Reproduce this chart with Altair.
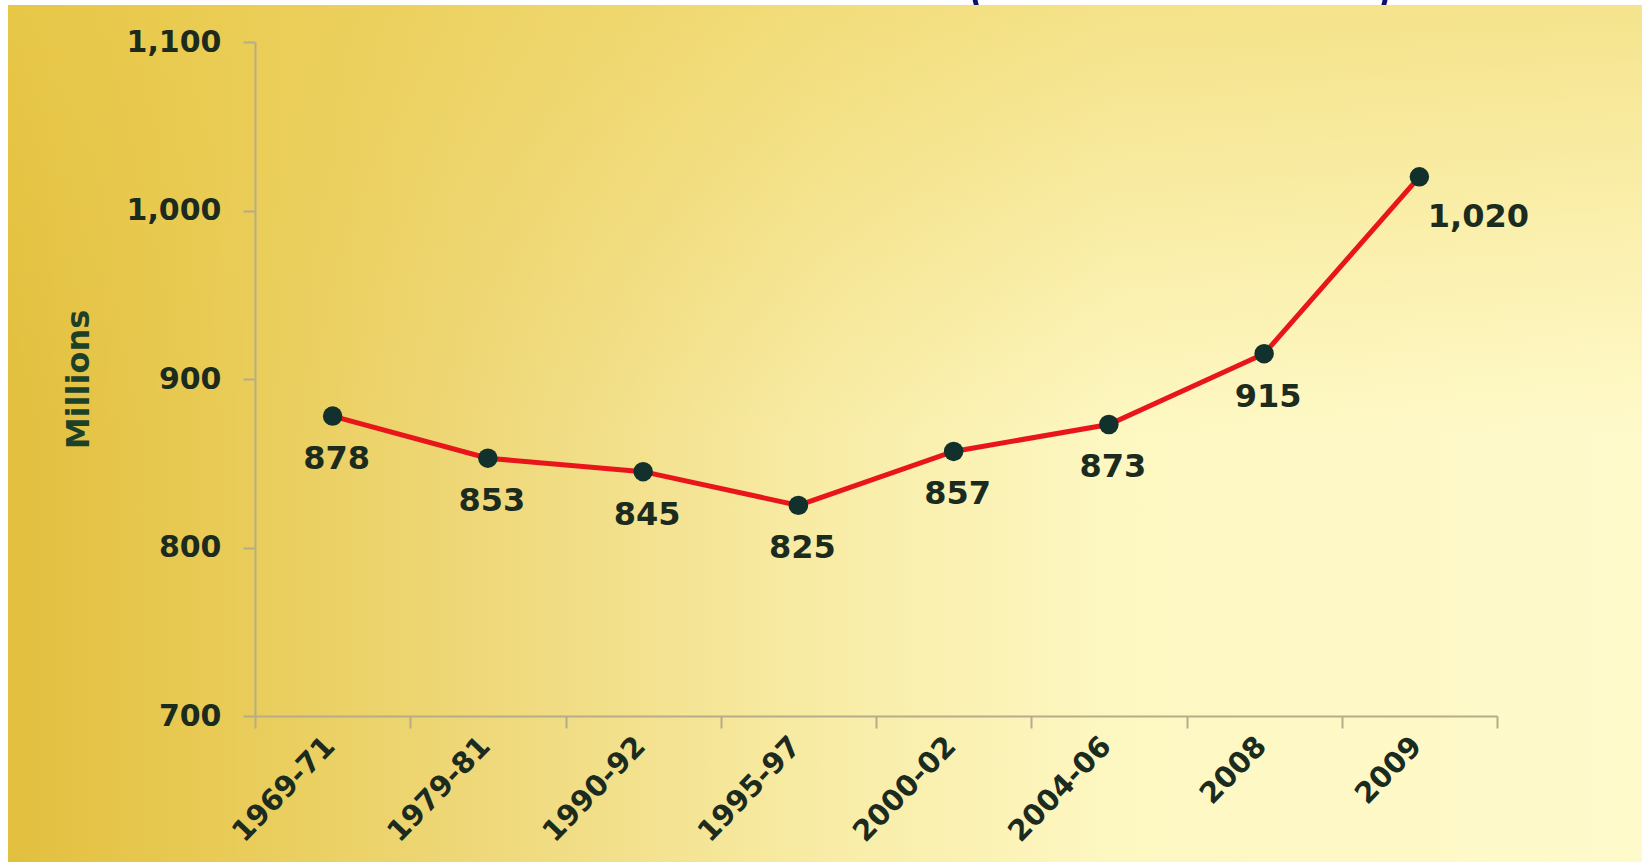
import altair as alt
import pandas as pd

# ---- data ----
periods = ["1969-71", "1979-81", "1990-92", "1995-97", "2000-02", "2004-06", "2008", "2009"]
hungry_millions = [878, 853, 845, 825, 857, 873, 915, 1020]
y_ticks = [700, 800, 900, 1000, 1100]
title_parens = ["(", ")"]

df = pd.DataFrame({"period": periods, "value": hungry_millions})
one = pd.DataFrame({"k": [0]})

W, H = 1242, 674
PL, PT, PR, PB = 255, 42, 145, 146

LABEL = "#1b2b1e"
FONT = "DejaVu Sans"

x_enc = alt.X(
    "period:N", sort=periods,
    scale=alt.Scale(type="band", paddingInner=0, paddingOuter=0),
    bandPosition=0.5,
    axis=alt.Axis(title=None, tickBand="extent", labelAngle=-46, zindex=2,
                  labelFont=FONT, labelFontWeight="bold", labelFontSize=29,
                  labelColor=LABEL, labelPadding=13, labelOffset=-3,
                  tickSize=12, tickWidth=2,
                  tickColor="#b5ad8a", domainColor="#b5ad8a", domainWidth=2),
)
y_enc = alt.Y(
    "value:Q",
    scale=alt.Scale(domain=[700, 1100], nice=False, zero=False),
    axis=alt.Axis(values=y_ticks, format=",d", title="Millions", grid=False, zindex=2,
                  labelFont=FONT, labelFontWeight="bold", labelFontSize=30,
                  labelColor=LABEL, labelPadding=22, tickSize=12, tickWidth=2,
                  tickColor="#b5ad8a", domainColor="#b5ad8a", domainWidth=2,
                  titleFont=FONT, titleFontWeight="bold", titleFontSize=32,
                  titleColor="#1d4028", titlePadding=31),
)

# cropped title parentheses peeking from above
paren_layers = [
    alt.Chart(one).mark_text(text=title_parens[0], font="Liberation Sans", fontSize=56,
                             color="#0b1270", align="center", baseline="alphabetic")
    .encode(x=alt.value(978 - PL), y=alt.value(8 - PT)),
    alt.Chart(one).mark_text(text=title_parens[1], font="Liberation Sans", fontSize=56,
                             color="#0b1270", align="center", baseline="alphabetic")
    .encode(x=alt.value(1382 - PL), y=alt.value(8 - PT)),
]

bg_h = alt.Chart(one).mark_rect(
    fill=alt.LinearGradient(
        gradient="linear", x1=0, y1=0, x2=1, y2=0,
        stops=[
            alt.GradientStop(offset=0, color="#e2bf3e"),
            alt.GradientStop(offset=0.12, color="#e8ca54"),
            alt.GradientStop(offset=0.3, color="#efd97c"),
            alt.GradientStop(offset=0.5, color="#f8eca6"),
            alt.GradientStop(offset=0.68, color="#fdf7c2"),
            alt.GradientStop(offset=1, color="#fffacb"),
        ],
    )
).encode(x=alt.value(8 - PL), x2=alt.value(W + PR), y=alt.value(5 - PT), y2=alt.value(H + PB))

bg_v = alt.Chart(one).mark_rect(
    fill=alt.LinearGradient(
        gradient="linear", x1=0, y1=0, x2=0, y2=1,
        stops=[
            alt.GradientStop(offset=0, color="rgba(236,206,80,0.5)"),
            alt.GradientStop(offset=0.5, color="rgba(236,206,80,0)"),
            alt.GradientStop(offset=1, color="rgba(236,206,80,0)"),
        ],
    )
).encode(x=alt.value(8 - PL), x2=alt.value(W + PR), y=alt.value(5 - PT), y2=alt.value(H + PB))

base = alt.Chart(df).encode(x=x_enc, y=y_enc)

line = base.mark_line(color="#e8161b", strokeWidth=5)
pts = base.mark_point(filled=True, color="#12302c", size=380, opacity=1)

lbl_style = dict(font=FONT, fontWeight="bold", fontSize=32, color=LABEL,
                 align="center", baseline="middle")
labels = base.transform_filter(alt.datum.period != periods[-1]).mark_text(
    dx=4, dy=43, **lbl_style).encode(text=alt.Text("value:Q", format=",d"))
label_last = base.transform_filter(alt.datum.period == periods[-1]).mark_text(
    dx=59, dy=40, **lbl_style).encode(text=alt.Text("value:Q", format=",d"))

chart = alt.layer(
    *paren_layers, bg_h, bg_v, line, pts, labels, label_last
).properties(
    width=W, height=H,
    autosize=alt.AutoSizeParams(type="none"),
    padding={"left": PL, "top": PT, "right": PR, "bottom": PB},
    background="#ffffff",
).configure_view(stroke=None)

chart.save("out.html", embed_options={"renderer": "svg", "actions": False})
